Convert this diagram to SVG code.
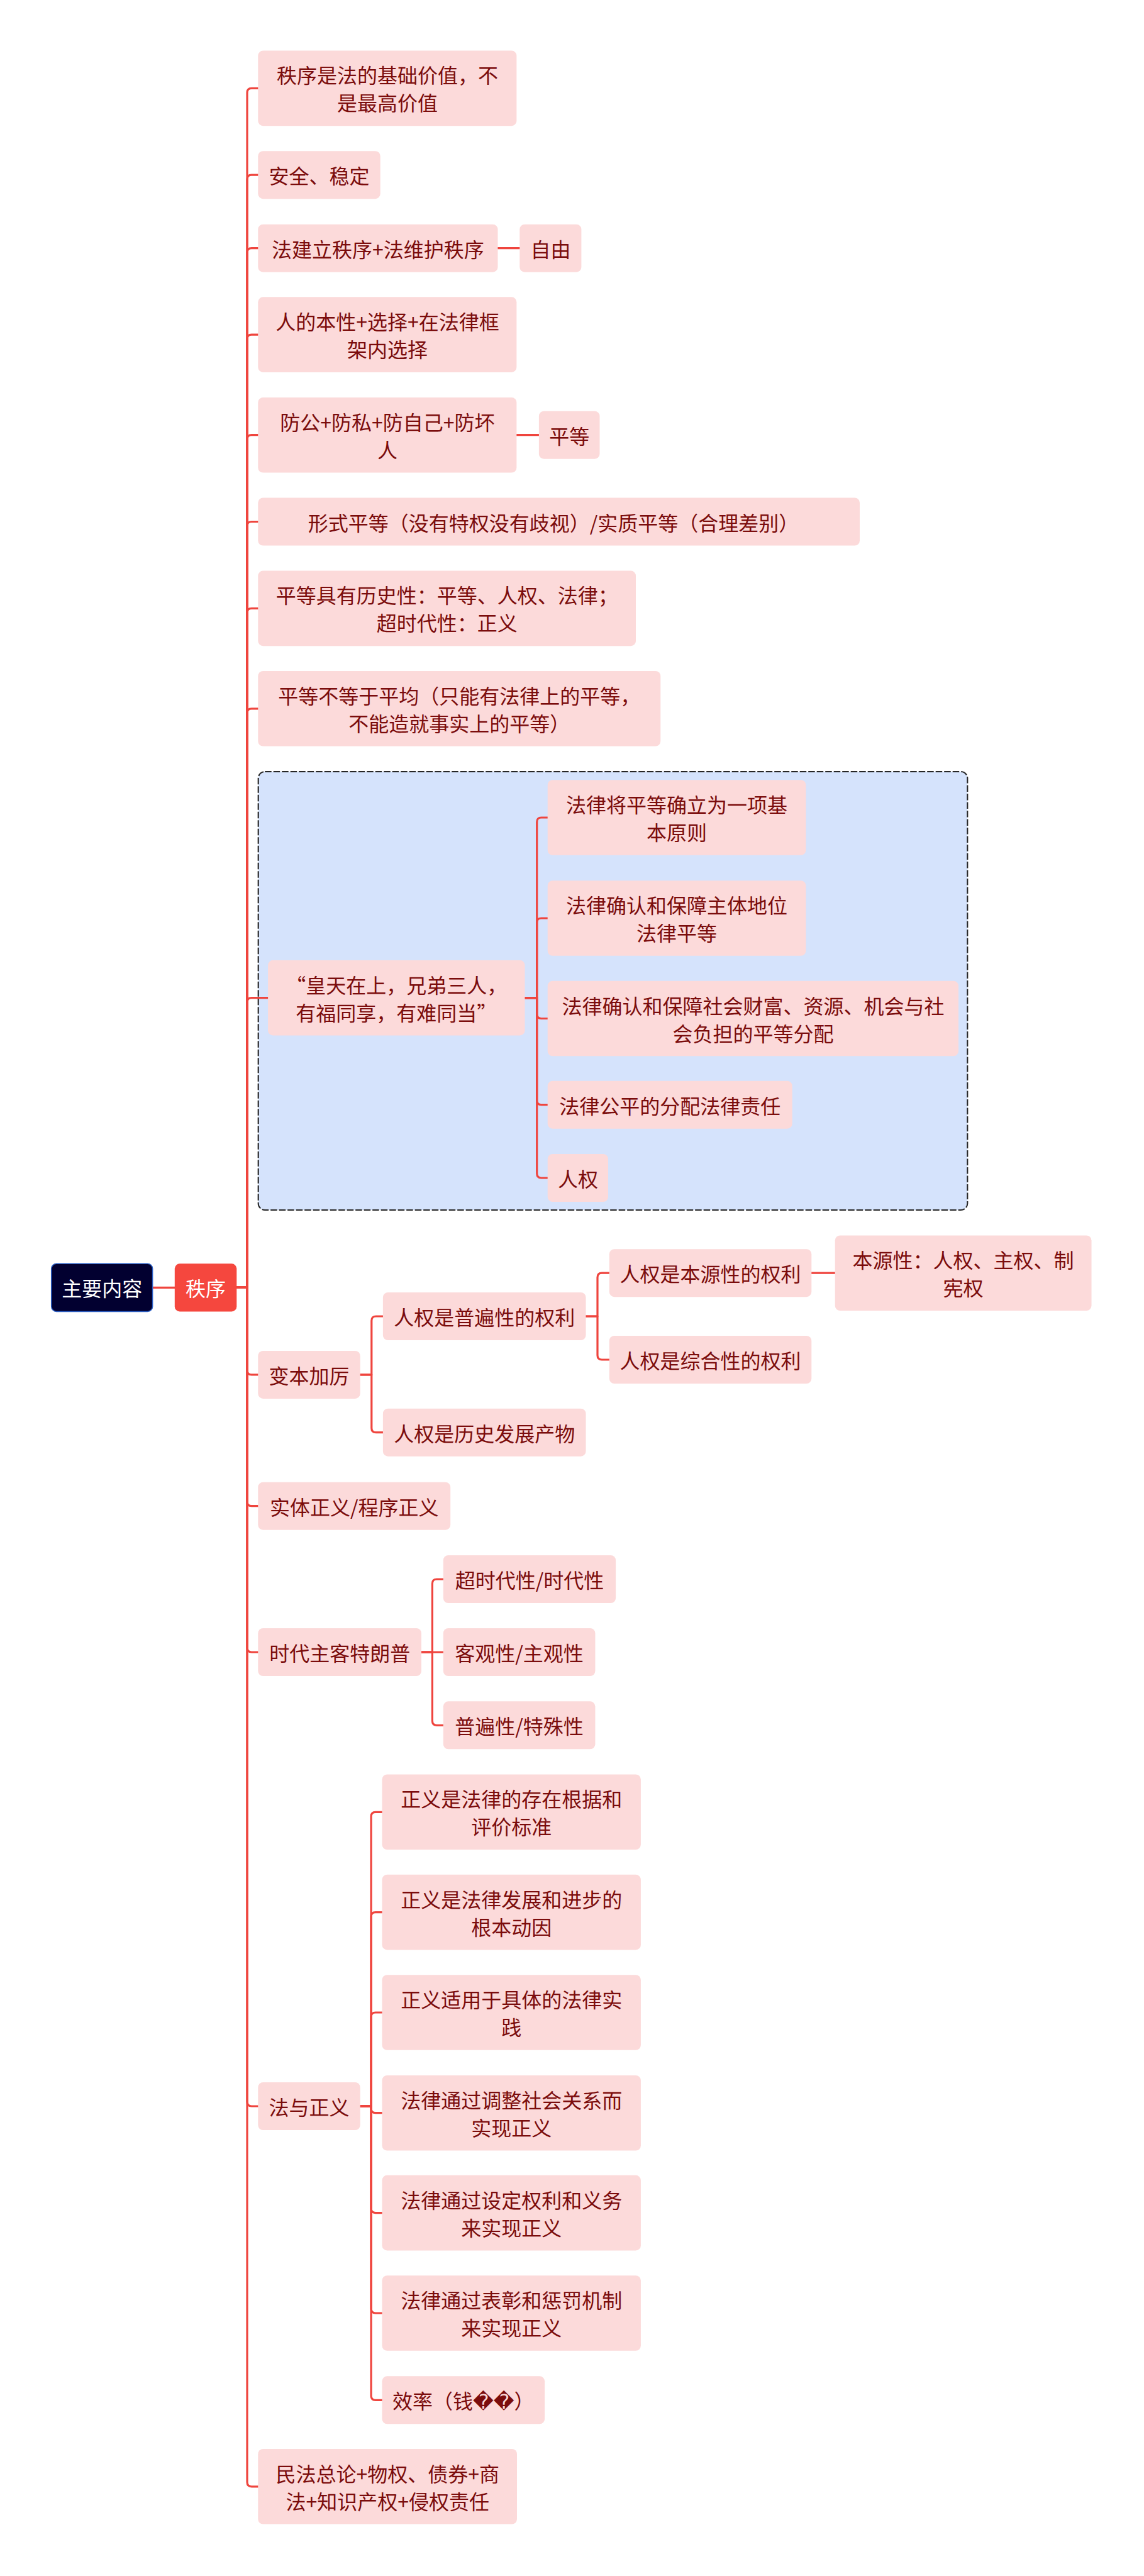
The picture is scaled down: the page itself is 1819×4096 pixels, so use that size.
<svg xmlns="http://www.w3.org/2000/svg" width="1819" height="4096" viewBox="0 0 1819 4096">
<style>
.n rect{fill:#fcdada}
.t{font-family:"Noto Sans CJK SC","Noto Sans CJK JP","DejaVu Sans",sans-serif;font-size:32px;fill:#7b0c0c;text-anchor:middle;dominant-baseline:central}
.w{fill:#ffffff}
.e path{fill:none;stroke:#ef453e;stroke-width:3.2;stroke-linecap:round;stroke-linejoin:round}
</style>
<rect width="1819" height="4096" fill="#ffffff"/>
<g id="boundary">
<rect x="410.7" y="1227" width="1127.6" height="697" rx="10.5" fill="#d5e3fc" stroke="#262626" stroke-width="2.1" stroke-dasharray="10.5 3"/>
</g>
<g class="e" id="connectors">
<path d="M242.6 2047.4H277.8"/>
<path d="M376.3 2047.4H393V147.4Q393 140.4 400 140.4H410.3"/>
<path d="M376.3 2047.4H393V285.2Q393 278.2 400 278.2H410.3"/>
<path d="M376.3 2047.4H393V401.7Q393 394.7 400 394.7H410.3"/>
<path d="M376.3 2047.4H393V539.1Q393 532.1 400 532.1H410.3"/>
<path d="M376.3 2047.4H393V698.7Q393 691.7 400 691.7H410.3"/>
<path d="M376.3 2047.4H393V836.5Q393 829.5 400 829.5H410.3"/>
<path d="M376.3 2047.4H393V974.4Q393 967.4 400 967.4H410.3"/>
<path d="M376.3 2047.4H393V1133.8Q393 1126.8 400 1126.8H410.3"/>
<path d="M376.3 2047.4H393V1593.6Q393 1586.6 400 1586.6H426.1"/>
<path d="M376.3 2047.4H393V2178.9Q393 2185.9 400 2185.9H410.3"/>
<path d="M376.3 2047.4H393V2387.7Q393 2394.7 400 2394.7H410.3"/>
<path d="M376.3 2047.4H393V2620Q393 2627 400 2627H410.3"/>
<path d="M376.3 2047.4H393V3342Q393 3349 400 3349H410.3"/>
<path d="M376.3 2047.4H393V3946.8Q393 3953.8 400 3953.8H410.3"/>
<path d="M791.5 394.7H826.3"/>
<path d="M821.4 691.7H856.9"/>
<path d="M834.5 1586.6H853.7V1307Q853.7 1300 860.7 1300H870.7"/>
<path d="M834.5 1586.6H853.7V1467Q853.7 1460 860.7 1460H870.7"/>
<path d="M834.5 1586.6H853.7V1612.5Q853.7 1619.5 860.7 1619.5H870.7"/>
<path d="M834.5 1586.6H853.7V1749.7Q853.7 1756.7 860.7 1756.7H870.7"/>
<path d="M834.5 1586.6H853.7V1866Q853.7 1873 860.7 1873H870.7"/>
<path d="M572.7 2185.9H590.8V2100Q590.8 2093 597.8 2093H608.9"/>
<path d="M572.7 2185.9H590.8V2270.7Q590.8 2277.7 597.8 2277.7H608.9"/>
<path d="M931.5 2093H950V2031.2Q950 2024.2 957 2024.2H968.8"/>
<path d="M931.5 2093H950V2155Q950 2162 957 2162H968.8"/>
<path d="M1290.3 2024.2H1327.7"/>
<path d="M670 2627H687.4V2518Q687.4 2511 694.4 2511H704.8"/>
<path d="M670 2627H704.8"/>
<path d="M670 2627H687.4V2736.3Q687.4 2743.3 694.4 2743.3H704.8"/>
<path d="M572.7 3349H590.1V2888.3Q590.1 2881.3 597.1 2881.3H607.5"/>
<path d="M572.7 3349H590.1V3047.6Q590.1 3040.6 597.1 3040.6H607.5"/>
<path d="M572.7 3349H590.1V3207Q590.1 3200 597.1 3200H607.5"/>
<path d="M572.7 3349H590.1V3352.7Q590.1 3359.7 597.1 3359.7H607.5"/>
<path d="M572.7 3349H590.1V3511.6Q590.1 3518.6 597.1 3518.6H607.5"/>
<path d="M572.7 3349H590.1V3671Q590.1 3678 597.1 3678H607.5"/>
<path d="M572.7 3349H590.1V3809.3Q590.1 3816.3 597.1 3816.3H607.5"/>
</g>
<g id="root"><rect x="81.7" y="2009.3" width="160.9" height="76.1" rx="8" fill="#020030" stroke="#2e62c8" stroke-width="1.5"/><text class="t w" x="162.2" y="2047.4">主要内容</text></g>
<g id="zhixu"><rect x="277.8" y="2009.3" width="98.5" height="76.1" rx="8" fill="#f5473e"/><text class="t w" x="327" y="2047.4">秩序</text></g>
<g class="n" id="n1"><rect x="410.3" y="80.6" width="411.1" height="119.6" rx="8"/><text class="t" x="615.9" y="118.4">秩序是法的基础价值，不</text><text class="t" x="615.9" y="162.4">是最高价值</text></g>
<g class="n" id="n2"><rect x="410.3" y="240.2" width="194.4" height="76" rx="8"/><text class="t" x="507.5" y="278.2">安全、稳定</text></g>
<g class="n" id="n3"><rect x="410.3" y="356.7" width="381.2" height="76" rx="8"/><text class="t" x="600.9" y="394.7">法建立秩序+法维护秩序</text></g>
<g class="n" id="n3a"><rect x="826.3" y="356.7" width="98.1" height="76" rx="8"/><text class="t" x="875.4" y="394.7">自由</text></g>
<g class="n" id="n4"><rect x="410.3" y="472.3" width="411.1" height="119.6" rx="8"/><text class="t" x="615.9" y="510.1">人的本性+选择+在法律框</text><text class="t" x="615.9" y="554.1">架内选择</text></g>
<g class="n" id="n5"><rect x="410.3" y="631.9" width="411.1" height="119.6" rx="8"/><text class="t" x="615.9" y="669.7">防公+防私+防自己+防坏</text><text class="t" x="615.9" y="713.7">人</text></g>
<g class="n" id="n5a"><rect x="856.9" y="653.7" width="96.6" height="76" rx="8"/><text class="t" x="905.2" y="691.7">平等</text></g>
<g class="n" id="n6"><rect x="410.3" y="791.5" width="956.7" height="76" rx="8"/><text class="t" x="880" y="829.5">形式平等（没有特权没有歧视）/实质平等（合理差别）</text></g>
<g class="n" id="n7"><rect x="410.3" y="907.6" width="600.7" height="119.6" rx="8"/><text class="t" x="710.7" y="945.4">平等具有历史性：平等、人权、法律；</text><text class="t" x="710.7" y="989.4">超时代性：正义</text></g>
<g class="n" id="n8"><rect x="410.3" y="1067" width="640" height="119.6" rx="8"/><text class="t" x="730.3" y="1104.8">平等不等于平均（只能有法律上的平等，</text><text class="t" x="730.3" y="1148.8">不能造就事实上的平等）</text></g>
<g class="n" id="quote"><rect x="426.1" y="1526.8" width="408.4" height="119.6" rx="8"/><text class="t" x="630.3" y="1564.6">“皇天在上，兄弟三人，</text><text class="t" x="630.3" y="1608.6">有福同享，有难同当”</text></g>
<g class="n" id="c1"><rect x="870.7" y="1240.2" width="410.7" height="119.6" rx="8"/><text class="t" x="1076" y="1278">法律将平等确立为一项基</text><text class="t" x="1076" y="1322">本原则</text></g>
<g class="n" id="c2"><rect x="870.7" y="1400.2" width="410.7" height="119.6" rx="8"/><text class="t" x="1076" y="1438">法律确认和保障主体地位</text><text class="t" x="1076" y="1482">法律平等</text></g>
<g class="n" id="c3"><rect x="870.7" y="1559.7" width="653.3" height="119.6" rx="8"/><text class="t" x="1197.4" y="1597.5">法律确认和保障社会财富、资源、机会与社</text><text class="t" x="1197.4" y="1641.5">会负担的平等分配</text></g>
<g class="n" id="c4"><rect x="870.7" y="1718.7" width="389" height="76" rx="8"/><text class="t" x="1065.2" y="1756.7">法律公平的分配法律责任</text></g>
<g class="n" id="c5"><rect x="870.7" y="1835" width="96.3" height="76" rx="8"/><text class="t" x="918.9" y="1873">人权</text></g>
<g class="n" id="bbjl"><rect x="410.3" y="2147.9" width="162.4" height="76" rx="8"/><text class="t" x="491.5" y="2185.9">变本加厉</text></g>
<g class="n" id="pubian"><rect x="608.9" y="2055" width="322.6" height="76" rx="8"/><text class="t" x="770.2" y="2093">人权是普遍性的权利</text></g>
<g class="n" id="lishi"><rect x="608.9" y="2239.7" width="322.6" height="76" rx="8"/><text class="t" x="770.2" y="2277.7">人权是历史发展产物</text></g>
<g class="n" id="benyuan"><rect x="968.8" y="1986.2" width="321.5" height="76" rx="8"/><text class="t" x="1129.6" y="2024.2">人权是本源性的权利</text></g>
<g class="n" id="zonghe"><rect x="968.8" y="2124" width="321.5" height="76" rx="8"/><text class="t" x="1129.6" y="2162">人权是综合性的权利</text></g>
<g class="n" id="benyuanxing"><rect x="1327.7" y="1964.5" width="407.8" height="119.6" rx="8"/><text class="t" x="1531.6" y="2002.3">本源性：人权、主权、制</text><text class="t" x="1531.6" y="2046.3">宪权</text></g>
<g class="n" id="shiti"><rect x="410.3" y="2356.7" width="305.9" height="76" rx="8"/><text class="t" x="563.3" y="2394.7">实体正义/程序正义</text></g>
<g class="n" id="shidai"><rect x="410.3" y="2589" width="259.7" height="76" rx="8"/><text class="t" x="540.2" y="2627">时代主客特朗普</text></g>
<g class="n" id="chaoshidai"><rect x="704.8" y="2473" width="274.3" height="76" rx="8"/><text class="t" x="842" y="2511">超时代性/时代性</text></g>
<g class="n" id="keguan"><rect x="704.8" y="2589" width="241.6" height="76" rx="8"/><text class="t" x="825.6" y="2627">客观性/主观性</text></g>
<g class="n" id="pubianxing"><rect x="704.8" y="2705.3" width="241.6" height="76" rx="8"/><text class="t" x="825.6" y="2743.3">普遍性/特殊性</text></g>
<g class="n" id="fayuzhengyi"><rect x="410.3" y="3311" width="162.4" height="76" rx="8"/><text class="t" x="491.5" y="3349">法与正义</text></g>
<g class="n" id="j1"><rect x="607.5" y="2821.5" width="411.4" height="119.6" rx="8"/><text class="t" x="813.2" y="2859.3">正义是法律的存在根据和</text><text class="t" x="813.2" y="2903.3">评价标准</text></g>
<g class="n" id="j2"><rect x="607.5" y="2980.8" width="411.4" height="119.6" rx="8"/><text class="t" x="813.2" y="3018.6">正义是法律发展和进步的</text><text class="t" x="813.2" y="3062.6">根本动因</text></g>
<g class="n" id="j3"><rect x="607.5" y="3140.2" width="411.4" height="119.6" rx="8"/><text class="t" x="813.2" y="3178">正义适用于具体的法律实</text><text class="t" x="813.2" y="3222">践</text></g>
<g class="n" id="j4"><rect x="607.5" y="3299.9" width="411.4" height="119.6" rx="8"/><text class="t" x="813.2" y="3337.7">法律通过调整社会关系而</text><text class="t" x="813.2" y="3381.7">实现正义</text></g>
<g class="n" id="j5"><rect x="607.5" y="3458.8" width="411.4" height="119.6" rx="8"/><text class="t" x="813.2" y="3496.6">法律通过设定权利和义务</text><text class="t" x="813.2" y="3540.6">来实现正义</text></g>
<g class="n" id="j6"><rect x="607.5" y="3618.2" width="411.4" height="119.6" rx="8"/><text class="t" x="813.2" y="3656">法律通过表彰和惩罚机制</text><text class="t" x="813.2" y="3700">来实现正义</text></g>
<g class="n" id="j7"><rect x="607.5" y="3778.3" width="258.6" height="76" rx="8"/><text class="t" x="736.8" y="3816.3">效率（钱��）</text></g>
<g class="n" id="minfa"><rect x="410.3" y="3894" width="411.7" height="119.6" rx="8"/><text class="t" x="616.2" y="3931.8">民法总论+物权、债券+商</text><text class="t" x="616.2" y="3975.8">法+知识产权+侵权责任</text></g>
</svg>
